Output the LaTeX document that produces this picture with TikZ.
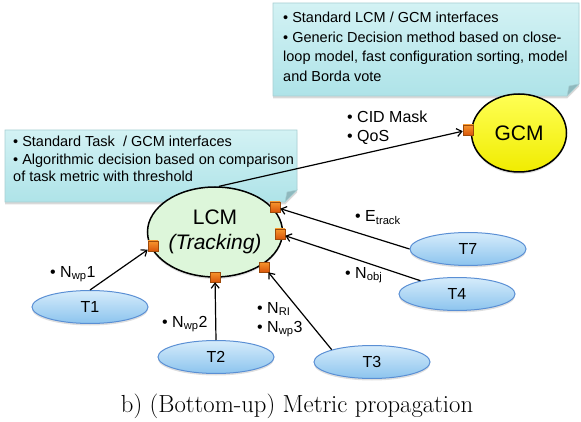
\documentclass[tikz,border=0pt]{standalone}
\usepackage{fontspec}
\newfontfamily\arial{Liberation Sans}
\usetikzlibrary{shapes.geometric,arrows.meta,shadows}
\definecolor{taskTop}{HTML}{D6ECFB}
\definecolor{taskBot}{HTML}{8CC4EE}
\definecolor{taskLine}{HTML}{5A8FD4}
\definecolor{lcmFill}{HTML}{DDF6DA}
\definecolor{gcmTop}{HTML}{FFFF55}
\definecolor{gcmBot}{HTML}{F0EC00}
\definecolor{portTop}{HTML}{F7962D}
\definecolor{portBot}{HTML}{D9560B}
\definecolor{portLine}{HTML}{9E4A0A}
\definecolor{callTop}{HTML}{D3F2F4}
\definecolor{callBot}{HTML}{AEE3E8}
\definecolor{callLine}{HTML}{A8CFD3}
\definecolor{foldCol}{HTML}{8FB9BE}
\begin{document}
\begin{tikzpicture}[x=1pt,y=-1pt,
  callout/.style={draw=callLine, line width=0.6pt, top color=callTop, bottom color=callBot,
    drop shadow={opacity=0.3, shadow xshift=0pt, shadow yshift=-2.5pt}},
  fold/.style={fill=foldCol, draw=callLine, line width=0.4pt},
  ctext/.style={font=\arial\fontsize{14.5}{19.5}\selectfont, inner sep=0, anchor=base west, align=left},
  ctextb/.style={font=\arial\fontsize{14.5}{17.5}\selectfont, inner sep=0, anchor=base west, align=left},
  task/.style={ellipse, draw=taskLine, line width=1pt, top color=taskTop, bottom color=taskBot,
    minimum width=116pt, minimum height=33pt, inner sep=0, font=\arial\fontsize{16}{19}\selectfont,
    drop shadow={opacity=0.25, shadow xshift=0pt, shadow yshift=-2pt}},
  port/.style={rectangle, draw=portLine, line width=0.6pt, top color=portTop, bottom color=portBot,
    minimum size=10pt, inner sep=0},
  conn/.style={line width=1.2pt, -{Straight Barb[length=5pt,width=8pt]}},
  lbl/.style={font=\arial\fontsize{16}{19}\selectfont, inner sep=0, anchor=base west, align=left}]
\useasboundingbox (0,0) rectangle (581,422);
% callouts
\path[callout] (273,3) -- (579,3) -- (579,84) -- (567,96) -- (273,96) -- cycle;
\path[fold] (567,96) -- (569,86) -- (579,84) -- cycle;
\path[callout] (5,130) -- (297,130) -- (297,190) -- (285,202) -- (5,202) -- cycle;
\path[fold] (285,202) -- (287,192) -- (297,190) -- cycle;
\node[ctext] (c1) at (283,81.5) {• Standard LCM / GCM interfaces\\• Generic Decision method based on close-\\loop model, fast configuration sorting, model\\and Borda vote};
\node[ctextb] (c2) at (13,182) {• Standard Task~~/ GCM interfaces\\• Algorithmic decision based on comparison\\of task metric with threshold};
% main ellipses
\node[ellipse, draw, line width=1.5pt, fill=lcmFill, minimum width=135pt, minimum height=90pt, inner sep=0,
  align=center, font=\arial\fontsize{21}{25}\selectfont,
  drop shadow={opacity=0.25, shadow xshift=0pt, shadow yshift=-2pt}] (LCM) at (215,232) {LCM\\\textit{(Tracking)}};
\node[ellipse, draw, line width=1.5pt, top color=gcmTop, bottom color=gcmBot, minimum width=95pt, minimum height=78pt, inner sep=0,
  font=\arial\fontsize{21}{25}\selectfont,
  drop shadow={opacity=0.25, shadow xshift=0pt, shadow yshift=-2pt}] (GCM) at (519,133) {GCM};
% tasks
\node[task] (T1) at (90,307) {T1};
\node[task] (T2) at (216,357) {T2};
\node[task] (T3) at (372,362) {T3};
\node[task] (T4) at (457,294) {T4};
\node[task] (T7) at (468,249) {T7};
% ports
\node[port] (pL) at (153,246) {};
\node[port] (pB) at (215,277) {};
\node[port] (pLR) at (264,267) {};
\node[port] (pR) at (280,234) {};
\node[port] (pTR) at (275,207) {};
\node[port] (pG) at (468,130) {};
% connectors
\draw[conn] (T1.north) -- (pL);
\draw[conn] (T2.north) -- (pB);
\draw[conn] (T3.163) -- (pLR);
\draw[conn] (T4.160) -- (pR);
\draw[conn] (T7.west) -- (pTR);
\draw[conn] (LCM.85) -- (pG);
% labels
\node[lbl] (lG) at (347,142) {• CID Mask\\• QoS};
\node[lbl] (l1) at (50,277) {• N\textsubscript{wp}1};
\node[lbl] (l2) at (162,327) {• N\textsubscript{wp}2};
\node[lbl] (l3) at (257,332) {• N\textsubscript{RI}\\• N\textsubscript{wp}3};
\node[lbl] (l4) at (345,278) {• N\textsubscript{obj}};
\node[lbl] (l7) at (355,222) {• E\textsubscript{track}};
% caption
\node[font=\fontsize{24.7}{30}\selectfont, inner sep=0, anchor=base] (cap) at (297,412) {b) (Bottom-up) Metric propagation};
\end{tikzpicture}
\end{document}
